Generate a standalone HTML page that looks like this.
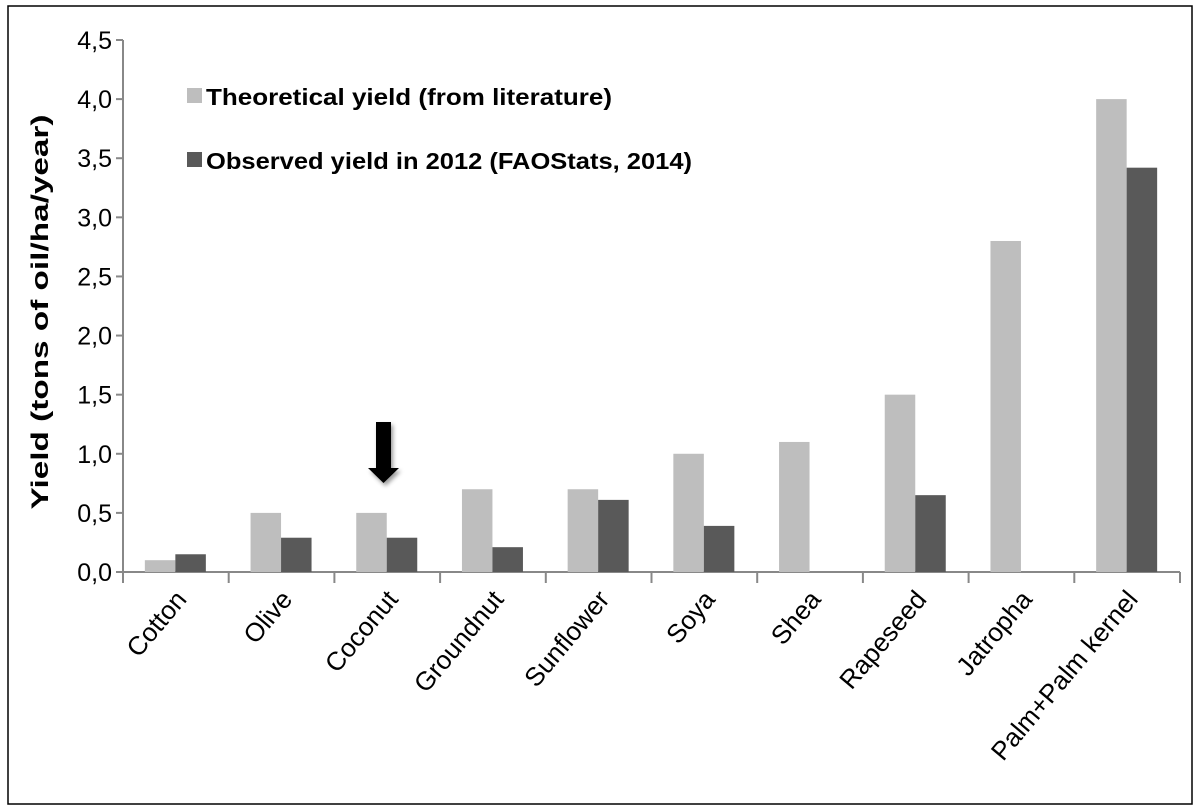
<!DOCTYPE html>
<html><head><meta charset="utf-8"><style>
body{margin:0;background:#fff;}
svg{display:block;font-family:"Liberation Sans",sans-serif;}
</style></head><body>
<svg width="1200" height="812">
<defs><filter id="sh" x="-50%" y="-20%" width="200%" height="150%"><feDropShadow dx="2" dy="3" stdDeviation="2" flood-color="#000" flood-opacity="0.4"/></filter></defs>
<rect x="8" y="6" width="1184" height="798" fill="#fff" stroke="#000" stroke-width="1.5"/>
<g id="axes"></g>
<g id="bars"></g>
<g id="labels"></g>
<text transform="translate(48,312) rotate(-90)" text-anchor="middle" font-size="24" font-weight="bold" textLength="395" lengthAdjust="spacingAndGlyphs">Yield  (tons of oil/ha/year)</text>
<rect x="187" y="88" width="15" height="15" fill="#bebebe"/>
<text x="206" y="105" font-size="23" font-weight="bold" textLength="406" lengthAdjust="spacingAndGlyphs">Theoretical yield (from literature)</text>
<rect x="187" y="152" width="15" height="15" fill="#595959"/>
<text x="206" y="169" font-size="23" font-weight="bold" textLength="486" lengthAdjust="spacingAndGlyphs">Observed yield in 2012 (FAOStats, 2014)</text>
<g filter="url(#sh)"><polygon points="376,422 391,422 391,468 399,468 383.5,483 368,468 376,468" fill="#000"/></g>
</svg>
<script>
const categories=["Cotton","Olive","Coconut","Groundnut","Sunflower","Soya","Shea","Rapeseed","Jatropha","Palm+Palm kernel"];
const theoretical=[0.1,0.5,0.5,0.7,0.7,1.0,1.1,1.5,2.8,4.0];
const observed=[0.15,0.29,0.29,0.21,0.61,0.39,0,0.65,0,3.42];
const yTicks=["0,0","0,5","1,0","1,5","2,0","2,5","3,0","3,5","4,0","4,5"];
const NS="http://www.w3.org/2000/svg";
const x0=123,x1=1180,y0=572,yTop=40,yMax=4.5;
const step=(x1-x0)/categories.length;
const y=v=>y0-(v/yMax)*(y0-yTop);
function mk(t,a,p){const e=document.createElementNS(NS,t);for(const k in a)e.setAttribute(k,a[k]);p.appendChild(e);return e;}
const ax=document.getElementById('axes'),bg=document.getElementById('bars'),lg=document.getElementById('labels');
let l=mk('line',{x1:x0,y1:yTop,x2:x0,y2:y0,stroke:'#888','stroke-width':2},ax);


l=mk('line',{x1:x0,y1:y0,x2:x1,y2:y0,stroke:'#888','stroke-width':2},ax);


yTicks.forEach((t,i)=>{
 const v=i*0.5,yy=y(v);
 mk('line',{x1:x0-7,y1:yy,x2:x0,y2:yy,stroke:'#888','stroke-width':2},ax);
 const tx=mk('text',{x:x0-11,y:yy+9,'text-anchor':'end','font-size':25},ax);
 tx.textContent=t;
 
 
});
for(let i=0;i<=categories.length;i++){const xx=x0+i*step;mk('line',{x1:xx,y1:y0,x2:xx,y2:y0+11,stroke:'#888','stroke-width':2},ax);}
categories.forEach((c,i)=>{
 const cx=x0+i*step+step/2,bw=30.5;
 let r=mk('rect',{x:cx-bw-0.5,y:y(theoretical[i]),width:bw,height:y0-y(theoretical[i]),fill:'#bebebe'},bg);
 
 
 r=mk('rect',{x:cx-0.5,y:y(observed[i]),width:bw,height:y0-y(observed[i]),fill:'#595959'},bg);
 
 
 const t=mk('text',{transform:`translate(${cx+12},${y0+28}) rotate(-50)`,'text-anchor':'end','font-size':26},lg);
 t.textContent=c;
 
 
});
</script>
</body></html>
